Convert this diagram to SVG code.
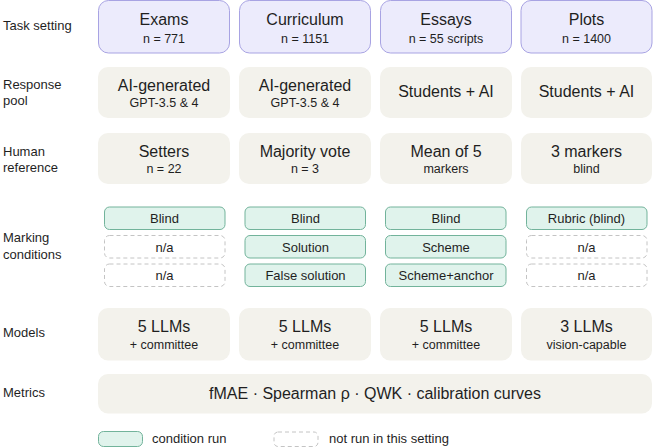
<svg xmlns="http://www.w3.org/2000/svg" width="653" height="447" viewBox="0 0 653 447">
<style>
text{font-family:"Liberation Sans",Arial,sans-serif;fill:#1f1f1f}
.lbl{font-size:13px;text-anchor:start}
.t{font-size:16px;text-anchor:middle}
.s{font-size:12.5px;text-anchor:middle}
.c{font-size:13px;text-anchor:middle}
.task{fill:#ecebfc;stroke:#a8a3e3;stroke-width:1}
.pane{fill:#f3f2ec;stroke:none}
.run{fill:#e0f3ec;stroke:#72b39b;stroke-width:1}
.na{fill:#ffffff;stroke:#c4c4c4;stroke-width:1;stroke-dasharray:4 3}
</style>
<rect width="653" height="447" fill="#ffffff"/>
<g id="row-labels">
<text class="lbl" x="3" y="30">Task setting</text>
<text class="lbl" x="3" y="89">Response</text>
<text class="lbl" x="3" y="105">pool</text>
<text class="lbl" x="3" y="156">Human</text>
<text class="lbl" x="3" y="172">reference</text>
<text class="lbl" x="3" y="242">Marking</text>
<text class="lbl" x="3" y="259">conditions</text>
<text class="lbl" x="3" y="337">Models</text>
<text class="lbl" x="3" y="397">Metrics</text>
</g>
<g id="task-exams"><rect class="task" x="98.5" y="0.5" width="131" height="52.5" rx="10"/><text class="t" x="164" y="25">Exams</text><text class="s" x="164" y="43">n = 771</text></g>
<g id="task-curriculum"><rect class="task" x="239.5" y="0.5" width="131" height="52.5" rx="10"/><text class="t" x="305" y="25">Curriculum</text><text class="s" x="305" y="43">n = 1151</text></g>
<g id="task-essays"><rect class="task" x="380.5" y="0.5" width="131" height="52.5" rx="10"/><text class="t" x="446" y="25">Essays</text><text class="s" x="446" y="43">n = 55 scripts</text></g>
<g id="task-plots"><rect class="task" x="521" y="0.5" width="131" height="52.5" rx="10"/><text class="t" x="586.5" y="25">Plots</text><text class="s" x="586.5" y="43">n = 1400</text></g>
<g id="pool-exams"><rect class="pane" x="98" y="67" width="132" height="51" rx="10"/><text class="t" x="164" y="91">AI-generated</text><text class="s" x="164" y="107">GPT-3.5 &amp; 4</text></g>
<g id="pool-curriculum"><rect class="pane" x="239" y="67" width="132" height="51" rx="10"/><text class="t" x="305" y="91">AI-generated</text><text class="s" x="305" y="107">GPT-3.5 &amp; 4</text></g>
<g id="pool-essays"><rect class="pane" x="380" y="67" width="132" height="51" rx="10"/><text class="t" x="446" y="97">Students + AI</text></g>
<g id="pool-plots"><rect class="pane" x="521" y="67" width="131" height="51" rx="10"/><text class="t" x="586.5" y="97">Students + AI</text></g>
<g id="ref-exams"><rect class="pane" x="98" y="133" width="132" height="51" rx="10"/><text class="t" x="164" y="157">Setters</text><text class="s" x="164" y="173">n = 22</text></g>
<g id="ref-curriculum"><rect class="pane" x="239" y="133" width="132" height="51" rx="10"/><text class="t" x="305" y="157">Majority vote</text><text class="s" x="305" y="173">n = 3</text></g>
<g id="ref-essays"><rect class="pane" x="380" y="133" width="132" height="51" rx="10"/><text class="t" x="446" y="157">Mean of 5</text><text class="s" x="446" y="173">markers</text></g>
<g id="ref-plots"><rect class="pane" x="521" y="133" width="131" height="51" rx="10"/><text class="t" x="586.5" y="157">3 markers</text><text class="s" x="586.5" y="173">blind</text></g>
<g id="cond-exams">
<rect class="run" x="104.5" y="207" width="120.5" height="22.5" rx="5"/><text class="c" x="164.5" y="223">Blind</text>
<rect class="na" x="104.5" y="235.5" width="120.5" height="22.5" rx="5"/><text class="c" x="164.5" y="251.5">n/a</text>
<rect class="na" x="104.5" y="264" width="120.5" height="22.5" rx="5"/><text class="c" x="164.5" y="280">n/a</text>
</g>
<g id="cond-curriculum">
<rect class="run" x="245" y="207" width="120.5" height="22.5" rx="5"/><text class="c" x="305.5" y="223">Blind</text>
<rect class="run" x="245" y="235.5" width="120.5" height="22.5" rx="5"/><text class="c" x="305.5" y="251.5">Solution</text>
<rect class="run" x="245" y="264" width="120.5" height="22.5" rx="5"/><text class="c" x="305.5" y="280">False solution</text>
</g>
<g id="cond-essays">
<rect class="run" x="385.5" y="207" width="120.5" height="22.5" rx="5"/><text class="c" x="446" y="223">Blind</text>
<rect class="run" x="385.5" y="235.5" width="120.5" height="22.5" rx="5"/><text class="c" x="446" y="251.5">Scheme</text>
<rect class="run" x="385.5" y="264" width="120.5" height="22.5" rx="5"/><text class="c" x="446" y="280">Scheme+anchor</text>
</g>
<g id="cond-plots">
<rect class="run" x="526.5" y="207" width="120.5" height="22.5" rx="5"/><text class="c" x="586.5" y="223">Rubric (blind)</text>
<rect class="na" x="526.5" y="235.5" width="120.5" height="22.5" rx="5"/><text class="c" x="586.5" y="251.5">n/a</text>
<rect class="na" x="526.5" y="264" width="120.5" height="22.5" rx="5"/><text class="c" x="586.5" y="280">n/a</text>
</g>
<g id="models-exams"><rect class="pane" x="98" y="308" width="132" height="52.5" rx="10"/><text class="t" x="164" y="332">5 LLMs</text><text class="s" x="164" y="349">+ committee</text></g>
<g id="models-curriculum"><rect class="pane" x="239" y="308" width="132" height="52.5" rx="10"/><text class="t" x="305" y="332">5 LLMs</text><text class="s" x="305" y="349">+ committee</text></g>
<g id="models-essays"><rect class="pane" x="380" y="308" width="132" height="52.5" rx="10"/><text class="t" x="446" y="332">5 LLMs</text><text class="s" x="446" y="349">+ committee</text></g>
<g id="models-plots"><rect class="pane" x="521" y="308" width="131" height="52.5" rx="10"/><text class="t" x="586.5" y="332">3 LLMs</text><text class="s" x="586.5" y="349">vision-capable</text></g>
<g id="metrics"><rect class="pane" x="98" y="374" width="554" height="39.5" rx="10"/><text class="t" x="375" y="399">fMAE · Spearman ρ · QWK · calibration curves</text></g>
<g id="legend">
<rect class="run" x="98.5" y="431.5" width="44" height="15" rx="5"/><text class="lbl" x="152" y="443">condition run</text>
<rect class="na" x="274" y="432" width="44" height="14.5" rx="4"/><text class="lbl" x="329" y="443">not run in this setting</text>
</g>
<g id="connectors"/>
</svg>
